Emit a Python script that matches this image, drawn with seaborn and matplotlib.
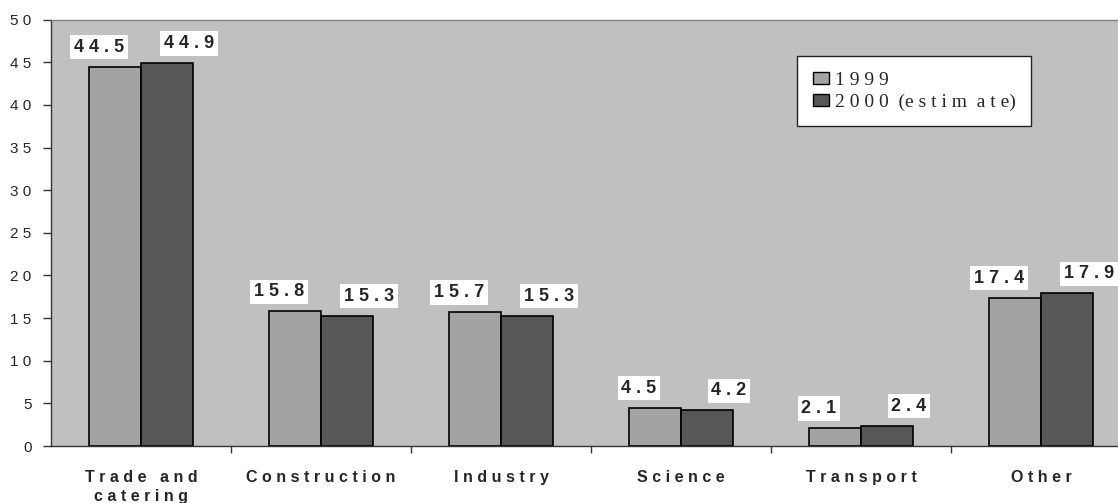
import pandas as pd
import matplotlib
matplotlib.use("Agg")
import matplotlib.pyplot as plt
import seaborn as sns
from matplotlib.patches import Patch

# --- data ---
sectors = ["Trade and\ncatering", "Construction", "Industry", "Science", "Transport", "Other"]
years = ["1999", "2000 (estimate)"]
vals_1999 = [44.5, 15.8, 15.7, 4.5, 2.1, 17.4]
vals_2000 = [44.9, 15.3, 15.3, 4.2, 2.4, 17.9]
y_ticks = [0, 5, 10, 15, 20, 25, 30, 35, 40, 45, 50]

BG = "#C0C0C0"
C_1999 = "#A3A3A3"
C_2000 = "#575757"


def spaced(s):
    # imitate the wide letter spacing of the original
    return "\n".join(" ".join(list(line)) for line in s.split("\n"))


df = pd.DataFrame({
    "sector": sectors * 2,
    "year": [years[0]] * len(sectors) + [years[1]] * len(sectors),
    "value": vals_1999 + vals_2000,
})

sns.set_style("white")
plt.rcParams["font.family"] = ["Liberation Sans", "DejaVu Sans"]

fig = plt.figure(figsize=(11.18, 5.03), dpi=100)
ax = fig.add_axes([51 / 1118, 1 - 446 / 503, 1080 / 1118, 426.4 / 503])
ax.set_facecolor(BG)

sns.barplot(data=df, x="sector", y="value", hue="year", palette=[C_1999, C_2000],
            width=0.578, edgecolor="black", linewidth=1.2, saturation=1,
            ax=ax, legend=False)

ax.set_ylim(0, 50)
ax.set_xlim(-0.5, len(sectors) - 0.5)
ax.set_yticks(y_ticks)
ax.set_yticklabels([spaced(str(t)) for t in y_ticks], fontsize=11)
ax.tick_params(axis="y", direction="out", length=6, width=1, color="#333333", pad=8, left=True)

ax.set_xticks(range(len(sectors)))
ax.set_xticklabels([spaced(s) for s in sectors], fontsize=11.5, fontweight="bold",
                   linespacing=1.35, va="top")
ax.tick_params(axis="x", length=0, pad=17)
ax.set_xticks([i + 0.5 for i in range(len(sectors) - 1)], minor=True)
ax.tick_params(axis="x", which="minor", direction="out", length=5, width=1,
               color="#333333", bottom=True)
ax.set_xlabel("")
ax.set_ylabel("")

for side in ["left", "bottom"]:
    ax.spines[side].set_color("#333333")
    ax.spines[side].set_linewidth(1)
ax.spines["top"].set_color("#808080")
ax.spines["top"].set_linewidth(1)
ax.spines["right"].set_visible(False)

# value labels on white boxes
offsets = [-16, 22]
for cont, dx in zip(ax.containers, offsets):
    for bar in cont:
        h = bar.get_height()
        ax.annotate(spaced(f"{h:.1f}"), (bar.get_x() + bar.get_width() / 2, h),
                    xytext=(dx, 11), textcoords="offset pixels",
                    ha="center", va="bottom", fontsize=13, fontweight="bold",
                    bbox=dict(boxstyle="square,pad=0.2", fc="white", ec="none"))

handles = [Patch(facecolor=C_1999, edgecolor="black", linewidth=1),
           Patch(facecolor=C_2000, edgecolor="black", linewidth=1)]
leg = fig.legend(handles, [spaced("1999"), "2 0 0 0  (e s t i m  a t e)"],
                 loc="upper left", bbox_to_anchor=(797 / 1118, 1 - 56 / 503),
                 frameon=True, fancybox=False, framealpha=1, edgecolor="#222222",
                 borderaxespad=0, handlelength=0.85, handleheight=0.6,
                 handletextpad=0.3, borderpad=0.8, labelspacing=0.25,
                 prop={"family": ["Liberation Serif", "DejaVu Serif"], "size": 14})
leg.get_frame().set_linewidth(1)

fig.savefig("out.png", dpi=100)
